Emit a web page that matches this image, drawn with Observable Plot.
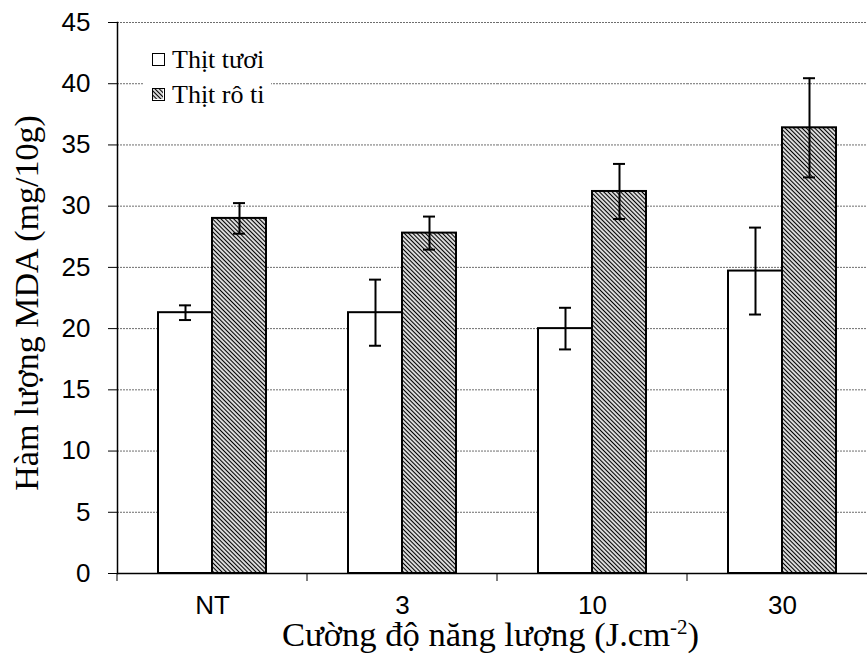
<!DOCTYPE html>
<html>
<head>
<meta charset="utf-8">
<script src="https://cdn.jsdelivr.net/npm/d3@7"></script>
<script src="https://cdn.jsdelivr.net/npm/@observablehq/plot@0.6"></script>
<style>
  html, body { margin: 0; padding: 0; background: #fff; overflow: hidden; }
  #wrap { position: relative; width: 867px; height: 658px; overflow: hidden; background: #fff; }
  #chart svg { max-width: none !important; }
  #legend { position: absolute; left: 143px; top: 42px; background: #fff; padding: 0 7px 0 9px;
            font-family: "Liberation Serif", serif; font-size: 26px; color: #000; }
  #legend .row { display: flex; align-items: center; height: 35px; }
  #legend .sw { width: 13px; height: 13px; box-sizing: border-box; border: 1.5px solid #000; margin-right: 7px; background: #fff; }
  g[aria-label="y-axis label"] text { font-family: "Liberation Serif", serif; font-size: 34px; }
  g[aria-label="fx-axis label"] text { font-family: "Liberation Serif", serif; font-size: 34.6px; }
</style>
</head>
<body>
<svg width="0" height="0" style="position:absolute">
  <defs>
    <pattern id="hatch" patternUnits="userSpaceOnUse" width="3" height="3" patternTransform="rotate(-45)">
      <rect width="3" height="3" fill="#fff"></rect>
      <line x1="1.5" y1="0" x2="1.5" y2="3" stroke="#000" stroke-width="1.3"></line>
    </pattern>
  </defs>
</svg>
<div id="wrap">
  <div id="chart"></div>
  <div id="legend"></div>
</div>
<script>
// ---- data ----
const categories = ["NT", "3", "10", "30"];
const seriesNames = ["Thịt tươi", "Thịt rô ti"];
const freshMean = [21.3, 21.3, 20.0, 24.7];
const freshErr  = [0.6, 2.7, 1.7, 3.55];
const roastMean = [29.0, 27.8, 31.2, 36.4];
const roastErr  = [1.25, 1.35, 2.25, 4.05];
const yTicks = [0, 5, 10, 15, 20, 25, 30, 35, 40, 45];
const xTitle = "Cường độ năng lượng (J.cm-2)";
const yTitle = "Hàm lượng MDA (mg/10g)";

const rows = categories.flatMap((c, i) => [
  {cat: c, series: seriesNames[0], mean: freshMean[i], err: freshErr[i]},
  {cat: c, series: seriesNames[1], mean: roastMean[i], err: roastErr[i]}
]);

const chart = Plot.plot({
  width: 880,
  height: 658,
  marginLeft: 117,
  marginRight: 3,
  marginTop: 22,
  marginBottom: 85,
  style: {fontFamily: "Liberation Sans, Arial, sans-serif", fontSize: "26px", background: "#fff", color: "#000", maxWidth: "none"},
  fx: {domain: categories, padding: 0},
  x: {domain: seriesNames, paddingInner: 0, paddingOuter: 0.743, axis: null},
  y: {domain: [0, 45]},
  color: {domain: seriesNames, range: ["#fff", "url(#hatch)"]},
  marks: [
    Plot.ruleY(yTicks.slice(1), {stroke: "#6e6e6e", strokeWidth: 1, strokeDasharray: "2,1"}),
    Plot.barY(rows, {fx: "cat", x: "series", y: "mean", fill: "series", stroke: "#000", strokeWidth: 2}),
    Plot.ruleX(rows, {fx: "cat", x: "series", y1: d => d.mean - d.err, y2: d => d.mean + d.err, stroke: "#000", strokeWidth: 2}),
    Plot.tickY(rows, {fx: "cat", x: "series", y: d => d.mean - d.err, stroke: "#000", strokeWidth: 2, insetLeft: 21, insetRight: 21}),
    Plot.tickY(rows, {fx: "cat", x: "series", y: d => d.mean + d.err, stroke: "#000", strokeWidth: 2, insetLeft: 21, insetRight: 21}),
    Plot.ruleY([0], {stroke: "#000", strokeWidth: 1.5}),
    Plot.frame({anchor: "left", facetAnchor: "left", stroke: "#000", strokeWidth: 1.5}),
    Plot.axisY({ticks: yTicks, tickSize: 9, tickPadding: 18, label: yTitle, labelAnchor: "center", labelArrow: false, labelOffset: 104}),
    Plot.axisFx({anchor: "bottom", tickSize: 0, tickPadding: 22, label: xTitle, labelAnchor: "center", labelArrow: false, labelOffset: 72})
  ]
});
chart.style.maxWidth = "none";
document.getElementById("chart").appendChild(chart);

// boundary tick marks below the category axis, placed with the fx scale
const fx = chart.scale("fx");
const yS = chart.scale("y");
const y0 = yS.apply(0);
const bounds = fx.domain.map(d => fx.apply(d)).concat([fx.apply(fx.domain[fx.domain.length - 1]) + fx.bandwidth]);
d3.select(chart).append("g").attr("stroke", "#000").attr("stroke-width", 1)
  .selectAll("line").data(bounds).join("line")
  .attr("x1", d => d).attr("x2", d => d).attr("y1", y0).attr("y2", y0 + 8);

// superscript in x title
const xg = d3.select(chart).select('g[aria-label="fx-axis label"]');
const xt = xg.select("text");
if (!xt.empty()) {
  const m = xTitle.match(/^(.*?)(-2)(\))$/);
  xt.text(m[1]);
  xt.append("tspan").attr("dy", "-12").style("font-size", "21px").text(m[2]);
  xt.append("tspan").attr("dy", "12").text(m[3]);
  xg.attr("transform", "translate(-7,0) " + (xg.attr("transform") || ""));
}
const yg = d3.select(chart).select('g[aria-label="y-axis label"]');
if (!yg.empty()) yg.attr("transform", "translate(0,5) " + (yg.attr("transform") || ""));

// legend
const lg = d3.select("#legend");
seriesNames.forEach((s, i) => {
  const r = lg.append("div").attr("class", "row");
  const sw = r.append("div").attr("class", "sw");
  if (i === 1) {
    sw.style("background", "none").append("svg").attr("width", 10).attr("height", 10)
      .style("display", "block").append("rect").attr("width", 10).attr("height", 10).attr("fill", "url(#hatch)");
  }
  r.append("span").text(s);
});
</script>
</body>
</html>
